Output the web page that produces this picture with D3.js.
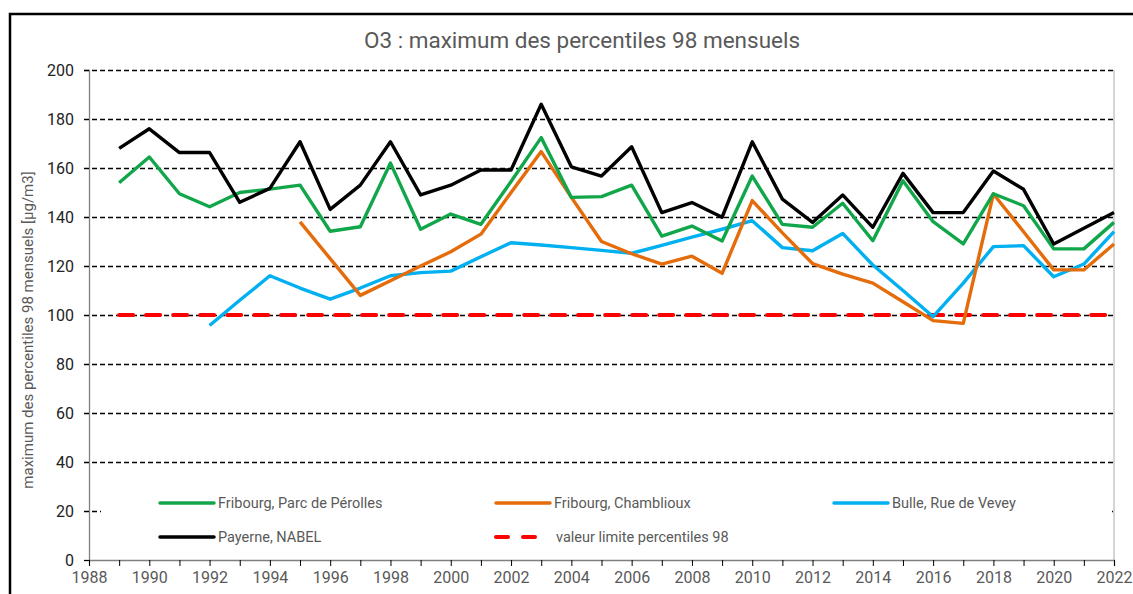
<!DOCTYPE html>
<html>
<head>
<meta charset="utf-8">
<script src="https://cdn.jsdelivr.net/npm/d3@7"></script>
<style>
  body { margin: 0; background: #fff; }
  svg { display: block; font-family: Roboto, "Noto Sans", sans-serif; }
</style>
</head>
<body>
<div id="draw-space"></div>
<script>
const years = d3.range(1989, 2023);

const perolles = [154, 164.5, 149.5, 144.2, 150, 151.4, 153, 134.2, 136, 162, 135, 141.2, 137, 154.5, 172.4, 148, 148.3, 153, 132.2, 136.3, 130.2, 156.7, 137, 135.8, 145.6, 130.3, 154.8, 138.1, 129, 149.5, 144.6, 127, 127, 137.8];
const chamblioux = [null, null, null, null, null, null, 138, 123, 108, 114, 120, 125.8, 133, 150, 166.7, 148, 130, 125, 120.8, 124, 117, 146.7, 133.5, 121, 116.7, 113, 105.4, 97.7, 96.6, 149.4, 134, 118.4, 118.4, 129];
const bulle = [null, null, null, 95.7, 106, 116, 111, 106.5, 111, 116, 117.3, 117.9, 123.8, 129.5, 128.6, 127.5, 126.4, 125.2, 128.4, 131.8, 135, 138.5, 127.5, 126.2, 133.3, 120.4, 110, 99.3, 113, 127.9, 128.3, 115.6, 120.8, 134];
const payerne = [168, 176, 166.3, 166.3, 146, 151.7, 170.7, 143.1, 153, 170.7, 149, 153, 159.2, 159.2, 186, 160.5, 156.7, 168.7, 141.8, 145.9, 139.9, 170.7, 147.3, 137.8, 149, 135.8, 157.8, 141.8, 141.8, 158.8, 151.3, 129, 135.4, 141.8];
const limit = years.map(() => 100);

const yTicks = [0, 20, 40, 60, 80, 100, 120, 140, 160, 180, 200];
const xLabels = d3.range(1988, 2023, 2);

const series = [
  { name: 'Fribourg, Parc de Pérolles', values: perolles, color: '#12a64a' },
  { name: 'Fribourg, Chamblioux', values: chamblioux, color: '#e46c0a' },
  { name: 'Bulle, Rue de Vevey', values: bulle, color: '#00b0f0' },
  { name: 'Payerne, NABEL', values: payerne, color: '#000000' },
  { name: 'valeur limite percentiles 98', values: limit, color: '#ff0000', dash: '14,13' }
];

const W = 1133, H = 594;
const svg = d3.select('#draw-space').append('svg')
              .attr('width', W).attr('height', H);

svg.append('rect').attr('width', W).attr('height', H).attr('fill', '#fff');

// outer frame
svg.append('path')
   .attr('d', `M10,${H} V14 H${W}`)
   .attr('fill', 'none').attr('stroke', '#000').attr('stroke-width', 2.5);

const x = d3.scaleLinear().domain([1988, 2022]).range([89, 1114]);
const y = d3.scaleLinear().domain([0, 200]).range([560, 70]);

svg.append('text')
   .attr('x', 582).attr('y', 48)
   .attr('text-anchor', 'middle')
   .attr('font-size', 22.5).attr('fill', '#595959')
   .text('O3 : maximum des percentiles 98 mensuels');

// gridlines
svg.selectAll('.grid')
   .data(yTicks.filter(d => d > 0))
   .enter().append('line')
   .attr('x1', 84).attr('x2', 1114)
   .attr('y1', d => Math.round(y(d)) + 0.5).attr('y2', d => Math.round(y(d)) + 0.5)
   .attr('stroke', '#000').attr('stroke-width', 1.6)
   .attr('stroke-dasharray', '5,3');

// y axis
const yAxis = svg.append('g')
   .attr('transform', 'translate(89,0)')
   .call(d3.axisLeft(y).tickValues(yTicks).tickSize(5).tickPadding(10));
yAxis.select('.domain').attr('stroke', '#808080').attr('stroke-width', 1.3);
yAxis.selectAll('.tick line').attr('stroke', '#000');
yAxis.selectAll('text').attr('font-size', 16).attr('fill', '#222')
     .attr('font-family', 'Roboto, sans-serif');

// right border line
svg.append('line')
   .attr('x1', 1114).attr('x2', 1114).attr('y1', y(200)).attr('y2', y(0))
   .attr('stroke', '#bfbfbf').attr('stroke-width', 1.3);

// x axis
const xAxis = svg.append('g')
   .attr('transform', 'translate(0,560)')
   .call(d3.axisBottom(x).tickValues(d3.range(1988, 2023)).tickSize(6).tickPadding(6)
           .tickFormat(d => xLabels.includes(d) ? d : ''));
xAxis.select('.domain').attr('stroke', '#808080').attr('stroke-width', 1.3);
xAxis.selectAll('.tick line').attr('stroke', '#000');
xAxis.selectAll('text').attr('font-size', 16).attr('fill', '#595959')
     .attr('font-family', 'Roboto, sans-serif');

svg.append('text')
   .attr('transform', `translate(33,${y(100) + 15}) rotate(-90)`)
   .attr('text-anchor', 'middle')
   .attr('font-size', 15).attr('fill', '#595959')
   .text('maximum des percentiles 98 mensuels [µg/m3]');

const line = d3.line()
   .defined(d => d.v != null)
   .x(d => x(d.yr)).y(d => y(d.v));

// limit line drawn first, then stations
const order = [4, 2, 1, 0, 3];
order.forEach(i => {
  const s = series[i];
  svg.append('path')
     .datum(years.map((yr, j) => ({ yr: yr, v: s.values[j] })))
     .attr('d', line)
     .attr('fill', 'none')
     .attr('stroke', s.color)
     .attr('stroke-width', s.dash ? 4 : 3.4)
     .attr('stroke-linejoin', 'round')
     .attr('stroke-linecap', s.dash ? 'round' : 'butt')
     .attr('stroke-dasharray', s.dash || null);
});

// legend
const legend = svg.append('g');
legend.append('rect')
   .attr('x', 101).attr('y', 482).attr('width', 1011).attr('height', 68)
   .attr('fill', '#fff');

const legendPos = [[160, 503], [496, 503], [834, 503], [160, 537], [496, 537]];
const items = legend.selectAll('.legend-item')
   .data(series)
   .enter().append('g')
   .attr('transform', (d, i) => `translate(${legendPos[i][0]},${legendPos[i][1]})`);

items.append('line')
   .attr('x1', 0).attr('x2', 54)
   .attr('stroke', d => d.color)
   .attr('stroke-width', d => d.dash ? 4 : 3.5)
   .attr('stroke-linecap', 'round')
   .attr('stroke-dasharray', d => d.dash ? '12,15' : null);

items.append('text')
   .attr('x', d => d.dash ? 60 : 58).attr('y', 5)
   .attr('font-size', 14.5).attr('fill', '#595959')
   .text(d => d.name);
</script>
</body>
</html>
